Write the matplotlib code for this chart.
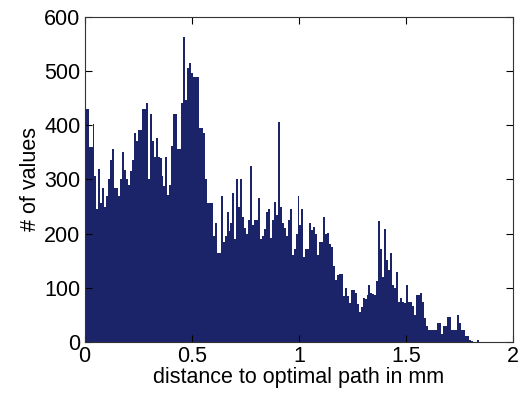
import numpy as np
import matplotlib
matplotlib.use('Agg')
import matplotlib.pyplot as plt

# histogram of distances, 200 bins between 0 and 1.84 mm
bin_lo = 0.0
bin_hi = 1.84
n_bins = 200

counts = [
    430, 430, 360, 360, 403, 306, 245, 319, 256, 285,
    250, 270, 300, 335, 356, 285, 285, 270, 300, 350,
    317, 300, 289, 316, 335, 385, 370, 391, 391, 429,
    429, 440, 300, 420, 370, 342, 376, 342, 340, 306,
    287, 342, 271, 290, 362, 420, 420, 357, 357, 440,
    563, 446, 505, 514, 496, 489, 489, 489, 395, 394,
    385, 300, 256, 256, 256, 195, 220, 165, 165, 270,
    185, 195, 240, 205, 220, 275, 190, 300, 250, 300,
    230, 210, 200, 225, 325, 216, 225, 225, 265, 190,
    196, 208, 240, 245, 192, 225, 259, 235, 405, 250,
    220, 210, 195, 225, 245, 161, 171, 200, 270, 216,
    245, 157, 171, 171, 220, 206, 213, 200, 161, 185,
    185, 231, 200, 201, 181, 175, 140, 115, 124, 126,
    126, 85, 99, 85, 72, 96, 96, 90, 70, 56,
    64, 81, 80, 87, 106, 90, 88, 87, 112, 224,
    171, 120, 209, 152, 133, 165, 106, 100, 130, 75,
    81, 75, 72, 106, 75, 75, 66, 50, 87, 87,
    90, 75, 45, 30, 23, 23, 23, 23, 23, 36,
    36, 15, 30, 30, 46, 46, 23, 23, 23, 50,
    36, 23, 23, 11, 11, 5, 3, 0, 0, 5,
]

x_ticks = [0, 0.5, 1, 1.5, 2]
x_tick_labels = ['0', '0.5', '1', '1.5', '2']
y_ticks = [0, 100, 200, 300, 400, 500, 600]

plt.rcParams['font.family'] = ['Liberation Sans', 'DejaVu Sans']

fig = plt.figure(figsize=(5.29, 3.97), dpi=100, facecolor='white')
ax = fig.add_axes([0.160, 0.138, 0.810, 0.820])

edges = np.linspace(bin_lo, bin_hi, n_bins + 1)
ax.bar(edges[:-1], counts, width=np.diff(edges), align='edge',
       color='#1b2369', edgecolor='none', linewidth=0)

ax.set_xlim(0, 2)
ax.set_ylim(0, 600)
ax.set_xticks(x_ticks)
ax.set_xticklabels(x_tick_labels)
ax.set_yticks(y_ticks)

ax.tick_params(direction='in', length=5, width=0.8, top=True, right=True,
               labelsize=15.5, pad=3, colors='black')
for s in ax.spines.values():
    s.set_color('#333333')
    s.set_linewidth(0.8)

ax.set_xlabel('distance to optimal path in mm', fontsize=15.5, labelpad=0)
ax.set_ylabel('# of values', fontsize=15.5, labelpad=2)

fig.savefig('out.png', dpi=100, facecolor='white')
